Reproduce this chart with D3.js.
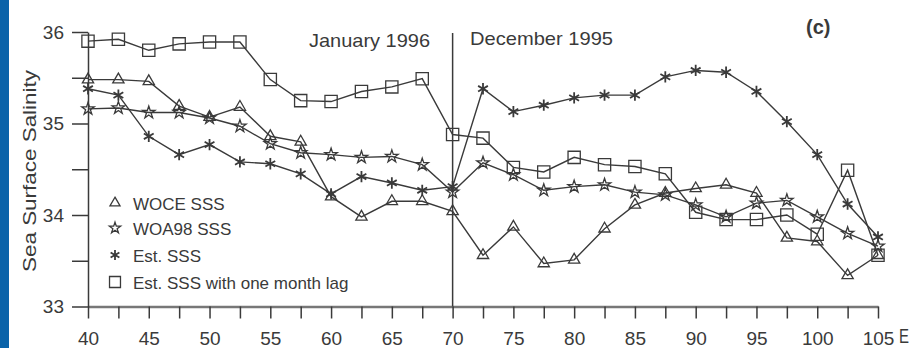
<!DOCTYPE html>
<html>
<head>
<meta charset="utf-8">
<script src="https://cdn.jsdelivr.net/npm/d3@7"></script>
<style>
  html, body { margin: 0; padding: 0; background: #fff; }
  svg { display: block; font-family: "Liberation Sans", Arial, sans-serif; }
</style>
</head>
<body>
<svg id="chart" width="912" height="348"></svg>
<script>
// Longitude (degrees E) of each sample along the section
const lon = [40, 42.5, 45, 47.5, 50, 52.5, 55, 57.5, 60, 62.5, 65, 67.5, 70,
             72.5, 75, 77.5, 80, 82.5, 85, 87.5, 90, 92.5, 95, 97.5, 100, 102.5, 105];

// Sea surface salinity series
const woceSSS = [35.48, 35.48, 35.46, 35.19, 35.07, 35.18, 34.86, 34.80, 34.20, 33.98, 34.15, 34.15, 34.04,
                 33.56, 33.87, 33.47, 33.51, 33.85, 34.11, 34.24, 34.29, 34.33, 34.24, 33.75, 33.71, 33.34, 33.56];
const woa98SSS = [35.16, 35.17, 35.12, 35.12, 35.06, 34.97, 34.78, 34.68, 34.66, 34.63, 34.64, 34.55, 34.25,
                  34.57, 34.44, 34.27, 34.31, 34.33, 34.25, 34.22, 34.11, 33.98, 34.13, 34.16, 33.98, 33.80, 33.66];
const estSSS = [35.38, 35.31, 34.86, 34.66, 34.77, 34.58, 34.56, 34.45, 34.23, 34.42, 34.35, 34.27, 34.31,
                35.38, 35.13, 35.20, 35.28, 35.31, 35.31, 35.51, 35.58, 35.56, 35.35, 35.02, 34.66, 34.12, 33.76];
const estLagSSS = [35.90, 35.92, 35.80, 35.87, 35.89, 35.89, 35.48, 35.25, 35.24, 35.35, 35.40, 35.49, 34.88,
                   34.84, 34.52, 34.47, 34.63, 34.55, 34.53, 34.45, 34.03, 33.95, 33.95, 34.00, 33.79, 34.49, 33.56];

const xTicks = d3.range(40, 105.01, 2.5);
const yTicks = d3.range(33, 36.01, 0.5);
const legendLabels = ["WOCE SSS", "WOA98 SSS", "Est. SSS", "Est. SSS with one month lag"];

const svg = d3.select("#chart");
const ink = "#3a3a3a";

// blue margin strip
svg.append("rect").attr("x", 0).attr("y", 0).attr("width", 9).attr("height", 348).attr("fill", "#0a63a9");

const x = d3.scaleLinear().domain([40, 105]).range([88, 878]);
const y = d3.scaleLinear().domain([33, 36]).range([306.5, 32]);

// x axis
const xAxis = svg.append("g").attr("transform", `translate(0,${y(33)})`)
  .call(d3.axisBottom(x).tickValues(xTicks).tickSize(12).tickSizeOuter(0).tickPadding(13)
        .tickFormat(d => d % 5 === 0 ? d3.format("d")(d) : ""));
xAxis.select(".domain").attr("stroke", "#777").attr("stroke-width", 2.5);
xAxis.selectAll(".tick line").attr("stroke", ink).attr("stroke-width", 1.5);
xAxis.selectAll(".tick text").attr("fill", ink).attr("font-size", 19);

// y axis
const yAxis = svg.append("g").attr("transform", `translate(${x(40)},0)`)
  .call(d3.axisLeft(y).tickValues(yTicks).tickSize(16).tickSizeOuter(0).tickPadding(8)
        .tickFormat(d => Number.isInteger(d) ? d3.format("d")(d) : ""));
yAxis.select(".domain").attr("stroke", ink).attr("stroke-width", 1.5);
yAxis.selectAll(".tick line").attr("stroke", ink).attr("stroke-width", 1.5);
yAxis.selectAll(".tick text").attr("fill", ink).attr("font-size", 19);

svg.append("text").attr("x", 899).attr("y", 343).attr("font-size", 20).attr("fill", ink)
  .attr("textLength", 10).attr("lengthAdjust", "spacingAndGlyphs").text("E");

// y axis title
svg.append("text").attr("transform", `translate(36,${171}) rotate(-90)`)
  .attr("text-anchor", "middle").attr("font-size", 18).attr("fill", ink)
  .attr("textLength", 202).attr("lengthAdjust", "spacingAndGlyphs")
  .text("Sea Surface Salinity");

// month divider
svg.append("line").attr("x1", x(70)).attr("x2", x(70)).attr("y1", 33).attr("y2", y(33))
  .attr("stroke", ink).attr("stroke-width", 1.5);
svg.append("text").attr("x", 309).attr("y", 47).attr("font-size", 19).attr("fill", ink)
  .attr("textLength", 121).attr("lengthAdjust", "spacingAndGlyphs").text("January 1996");
svg.append("text").attr("x", 470).attr("y", 45).attr("font-size", 19).attr("fill", ink)
  .attr("textLength", 143).attr("lengthAdjust", "spacingAndGlyphs").text("December 1995");
svg.append("text").attr("x", 806).attr("y", 34).attr("font-size", 20).attr("font-weight", "bold")
  .attr("fill", ink).text("(c)");

// series
const series = [
  { values: woceSSS,   symbol: d3.symbolTriangle, size: 55,  sw: 1.3 },
  { values: woa98SSS,  symbol: d3.symbolStar,     size: 48,  sw: 1.3 },
  { values: estSSS,    symbol: d3.symbolAsterisk, size: 90,  sw: 1.8 },
  { values: estLagSSS, symbol: d3.symbolSquare,   size: 150, sw: 1.3 }
];

const line = d3.line().x((d, i) => x(lon[i])).y(d => y(d));

series.forEach(s => {
  const g = svg.append("g");
  g.append("path").datum(s.values).attr("d", line)
    .attr("fill", "none").attr("stroke", ink).attr("stroke-width", 1.4);
  g.selectAll("path.m").data(s.values).join("path").attr("class", "m")
    .attr("transform", (d, i) => `translate(${x(lon[i])},${y(d)})`)
    .attr("d", d3.symbol(s.symbol, s.size)())
    .attr("fill", "none").attr("stroke", ink).attr("stroke-width", s.sw);
});

// legend
const legY = [204, 229, 256, 283];
const legend = svg.append("g");
series.forEach((s, i) => {
  legend.append("path").attr("transform", `translate(115,${legY[i] - 1})`)
    .attr("d", d3.symbol(s.symbol, s.size * 0.8)())
    .attr("fill", "none").attr("stroke", ink).attr("stroke-width", s.sw);
  legend.append("text").attr("x", 133).attr("y", legY[i] + 6).attr("font-size", 17)
    .attr("fill", ink).text(legendLabels[i]);
});
</script>
</body>
</html>
